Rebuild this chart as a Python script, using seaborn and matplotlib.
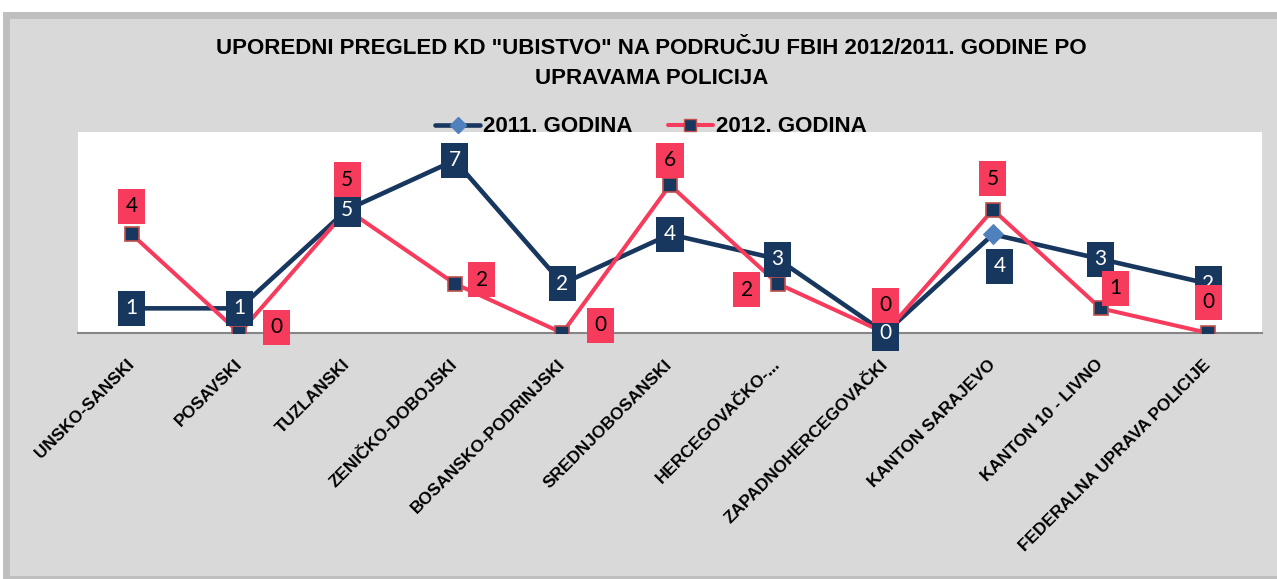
import numpy as np
import pandas as pd
import matplotlib
matplotlib.use("Agg")
import matplotlib.pyplot as plt
import seaborn as sns
from matplotlib.patches import Rectangle
from matplotlib.lines import Line2D

categories = ["UNSKO-SANSKI", "POSAVSKI", "TUZLANSKI", "ZENIČKO-DOBOJSKI",
              "BOSANSKO-PODRINJSKI", "SREDNJOBOSANSKI", "HERCEGOVAČKO-...",
              "ZAPADNOHERCEGOVAČKI", "KANTON SARAJEVO", "KANTON 10 - LIVNO",
              "FEDERALNA UPRAVA POLICIJE"]
god_2011 = [1, 1, 5, 7, 2, 4, 3, 0, 4, 3, 2]
god_2012 = [4, 0, 5, 2, 0, 6, 2, 0, 5, 1, 0]

# label offsets in pixels (dx, dy)
off_2011 = [(0, 0)] * 8 + [(7, -32), (0, 0), (0, 0)]
off_2012 = [(0, 28), (37, 6), (0, 30), (27, 4), (38, 8), (0, 25),
            (-31, -6), (0, 28), (0, 31), (15, 20), (0, 31)]

navy = "#17375e"
red = "#f63b5c"
light = "#4f81bd"

df = pd.DataFrame({"pos": np.arange(len(categories)), "kategorija": categories,
                   "2011": god_2011, "2012": god_2012})

sns.set_style("white")
plt.rcParams["font.family"] = ["Liberation Sans", "DejaVu Sans"]
plt.rcParams["text.color"] = "black"
plt.rcParams["xtick.color"] = "black"

fig = plt.figure(figsize=(12.77, 5.79), dpi=100)
fig.patch.set_facecolor("white")
bg = Rectangle((6 / 1277, 0), 1.0, 1 - 15 / 579, transform=fig.transFigure,
               facecolor="#d9d9d9", edgecolor="#bfbfbf", linewidth=5, zorder=-10)
fig.patches.append(bg)

ax = fig.add_axes([78 / 1277, 1 - 333 / 579, (1262 - 78) / 1277, (333 - 132) / 579])
ax.set_facecolor("white")

sns.lineplot(data=df, x="pos", y="2011", ax=ax, color=navy, linewidth=3.3,
             marker="D", markersize=10, markerfacecolor=light, markeredgecolor=light, zorder=3)
sns.lineplot(data=df, x="pos", y="2012", ax=ax, color=red, linewidth=2.9,
             marker="s", markersize=10.5, markerfacecolor=navy, markeredgecolor="#c0504d",
             markeredgewidth=1.2, zorder=4)

for i, v in enumerate(god_2011):
    ax.annotate(str(v), (i, v), xytext=off_2011[i], textcoords="offset pixels",
                ha="center", va="center", fontsize=15, color="white", family="Lato",
                bbox=dict(boxstyle="square,pad=0.36", fc=navy, ec="none"), zorder=6,
                annotation_clip=False)
for i, v in enumerate(god_2012):
    ax.annotate(str(v), (i, v), xytext=off_2012[i], textcoords="offset pixels",
                ha="center", va="center", fontsize=15, color="black", family="Lato",
                bbox=dict(boxstyle="square,pad=0.36", fc=red, ec="none"), zorder=7,
                annotation_clip=False)

ax.set_xlim(-0.5, len(categories) - 0.5)
ax.set_ylim(0, 8.15)
ax.set_xticks(df["pos"])
ax.set_xticklabels(categories, rotation=45, ha="right", va="center",
                   rotation_mode="anchor", fontsize=12.4, fontweight="bold")
ax.tick_params(axis="x", length=0, pad=21)
ax.set_yticks([])
ax.set_xlabel("")
ax.set_ylabel("")
for s in ["top", "right", "left"]:
    ax.spines[s].set_visible(False)
ax.spines["bottom"].set_color("#868686")
ax.spines["bottom"].set_linewidth(1.5)

fig.text(0.51, 1 - 49 / 579, 'UPOREDNI PREGLED KD "UBISTVO" NA PODRUČJU FBIH 2012/2011. GODINE PO',
         ha="center", va="center", fontsize=16, fontweight="bold")
fig.text(0.51, 1 - 78 / 579, "UPRAVAMA POLICIJA",
         ha="center", va="center", fontsize=16, fontweight="bold")

handles = [Line2D([], [], color=navy, linewidth=3.3, marker="D", markersize=8,
                  markerfacecolor=light, markeredgecolor=light),
           Line2D([], [], color=red, linewidth=2.9, marker="s", markersize=8,
                  markerfacecolor=navy, markeredgecolor="#c0504d")]
fig.legend(handles, ["2011. GODINA", "2012. GODINA"], loc="center",
           bbox_to_anchor=(651 / 1277, 1 - 127 / 579), ncol=2, frameon=False,
           prop={"weight": "bold", "size": 16}, handlelength=2.0, handletextpad=0.15,
           columnspacing=1.6)

fig.savefig("out.png", dpi=100)
